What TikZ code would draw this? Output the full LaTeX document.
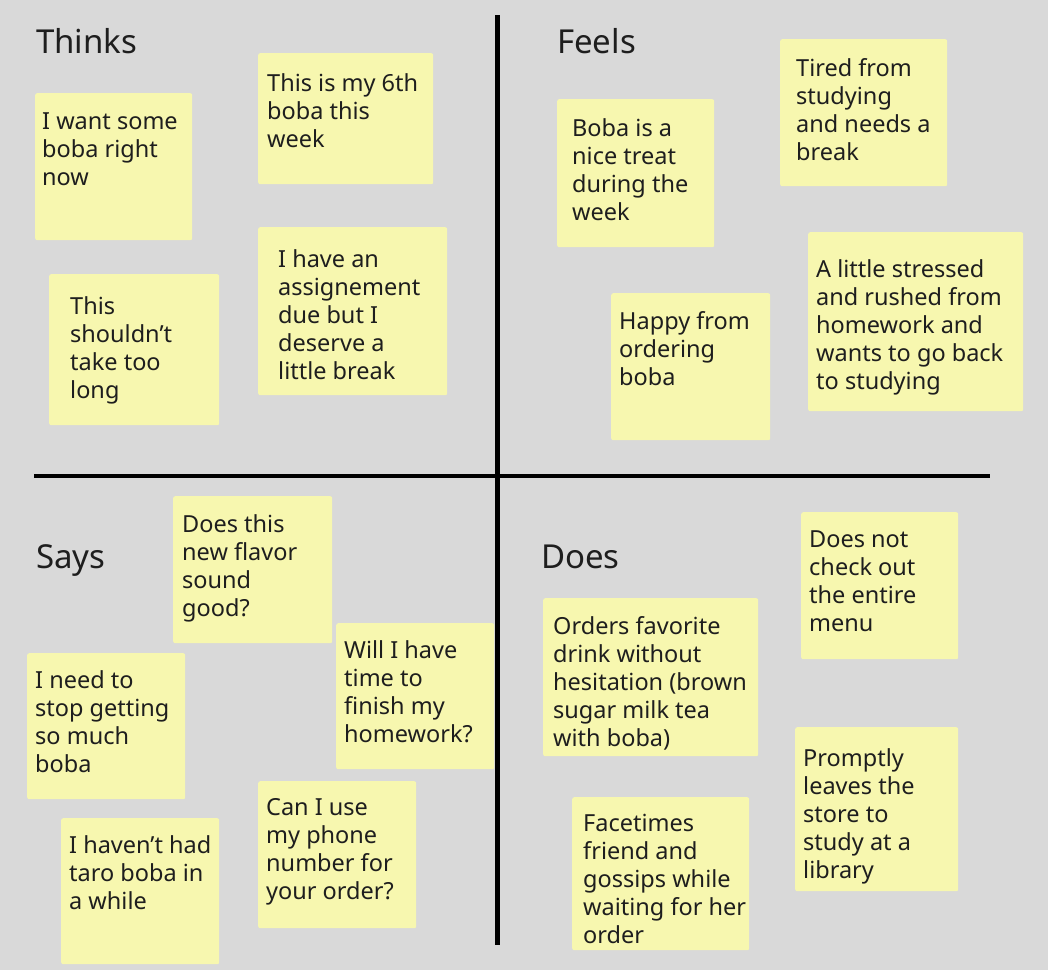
\documentclass[tikz,border=0pt]{standalone}
\usepackage{fontspec}
\setmainfont{Noto Sans}
\usepackage{tikz}
\definecolor{board}{HTML}{D9D9D9}
\definecolor{notey}{HTML}{F7F7AF}
\definecolor{ink}{HTML}{1E1E1E}

\begin{document}
\begin{tikzpicture}[x=1pt, y=-1pt,
      note/.style={fill=notey, rounded corners=2pt, anchor=north west, inner sep=0pt},
      txt/.style={anchor=north west, inner sep=0pt, yshift=1.5pt, align=left, text=ink, font=\fontsize{23.5}{28}\selectfont},
      head/.style={anchor=north west, inner sep=0pt, text=ink, font=\fontsize{33}{40}\selectfont},
      axis/.style={line width=4.5pt, black}]
      \useasboundingbox (0,0) rectangle (1048,970);
      \fill[board] (0,0) rectangle (1048,970);
      % quadrant axes
      \coordinate (vtop) at (497.5,15);   \coordinate (vbot) at (497.5,945);
      \coordinate (hleft) at (34,476);    \coordinate (hright) at (990,476);
      \draw[axis] (vtop) -- (vbot);
      \draw[axis] (hleft) -- (hright);
      % headings
      \node[head] (thinks) at (36,28)  {Thinks};
      \node[head] (feels)  at (557,28) {Feels};
      \node[head] (says)   at (36,544) {Says};
      \node[head] (does)   at (541,545){Does};
      % thinks
      \node[note, minimum width=157pt, minimum height=147pt] (want)   at (35,93)  {};
      \node[note, minimum width=175pt, minimum height=131pt] (sixth)  at (258,53) {};
      \node[note, minimum width=170pt, minimum height=151pt] (short)  at (49,274) {};
      \node[note, minimum width=189pt, minimum height=168pt] (assign) at (258,227){};
      \node[txt] (wantT)   at (42,114)  {I want some\\boba right\\now};
      \node[txt] (sixthT)  at (267,75)  {This is my 6th\\boba this\\week};
      \node[txt] (shortT)  at (70,298)  {This\\shouldn’t\\take too\\long};
      \node[txt] (assignT) at (278,251) {I have an\\assignement\\due but I\\deserve a\\little break};
      % feels
      \node[note, minimum width=157pt, minimum height=148pt] (treat)  at (557,99) {};
      \node[note, minimum width=167pt, minimum height=147pt] (tired)  at (780,39) {};
      \node[note, minimum width=159pt, minimum height=147pt] (happy)  at (611,293){};
      \node[note, minimum width=215pt, minimum height=179pt] (stress) at (808,232){};
      \node[txt] (treatT)  at (572,120) {Boba is a\\nice treat\\during the\\week};
      \node[txt] (tiredT)  at (796,60)  {Tired from\\studying\\and needs a\\break};
      \node[txt] (happyT)  at (619,313) {Happy from\\ordering\\boba};
      \node[txt] (stressT) at (816,261) {A little stressed\\and rushed from\\homework and\\wants to go back\\to studying};
      % says
      \node[note, minimum width=159pt, minimum height=147pt] (flavor) at (173,496){};
      \node[note, minimum width=158pt, minimum height=146pt] (stop)   at (27,653) {};
      \node[note, minimum width=158pt, minimum height=146pt] (hwtime) at (336,623){};
      \node[note, minimum width=158pt, minimum height=146pt] (taro)   at (61,818) {};
      \node[note, minimum width=158pt, minimum height=147pt] (phone)  at (258,781){};
      \node[txt] (flavorT) at (182,516) {Does this\\new flavor\\sound\\good?};
      \node[txt] (stopT)   at (35,672)  {I need to\\stop getting\\so much\\boba};
      \node[txt] (hwtimeT) at (344,642) {Will I have\\time to\\finish my\\homework?};
      \node[txt] (taroT)   at (69,837)  {I haven’t had\\taro boba in\\a while};
      \node[txt] (phoneT)  at (266,800) {Can I use\\my phone\\number for\\your order?};
      % does
      \node[note, minimum width=157pt, minimum height=147pt] (menu)   at (801,512){};
      \node[note, minimum width=215pt, minimum height=158pt] (orders) at (543,598){};
      \node[note, minimum width=177pt, minimum height=153pt] (facet)  at (572,797){};
      \node[note, minimum width=163pt, minimum height=164pt] (leaves) at (795,727){};
      \node[txt] (menuT)   at (809,532) {Does not\\check out\\the entire\\menu};
      \node[txt] (ordersT) at (553,618) {Orders favorite\\drink without\\hesitation (brown\\sugar milk tea\\with boba)};
      \node[txt] (facetT)  at (583,815) {Facetimes\\friend and\\gossips while\\waiting for her\\order};
      \node[txt] (leavesT) at (803,750) {Promptly\\leaves the\\store to\\study at a\\library};
    \end{tikzpicture}
\end{document}
